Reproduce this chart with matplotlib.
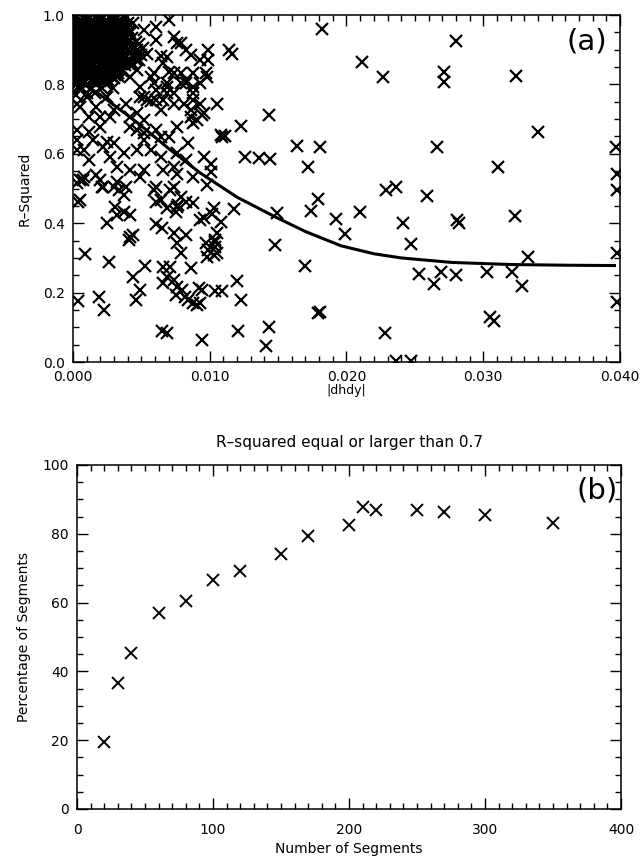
import numpy as np
import matplotlib
matplotlib.use("Agg")
import matplotlib.pyplot as plt
from matplotlib.ticker import MultipleLocator

# ---- panel (a): R-squared vs |dhdy| ----
# dense solid cluster near the origin
blob_pts = [
    (0.0002, 0.99), (0.0007, 0.99), (0.0012, 0.99), (0.0017, 0.99), (0.0022, 0.99), (0.0027, 0.99), (0.0032, 0.99),
    (0.0004, 0.975), (0.0009, 0.975), (0.0014, 0.975), (0.0019, 0.975), (0.0024, 0.975), (0.0029, 0.975), (0.0035, 0.975),
    (0.0002, 0.96), (0.0007, 0.96), (0.0012, 0.96), (0.0017, 0.96), (0.0022, 0.96), (0.0027, 0.96), (0.0032, 0.96), (0.0037, 0.96),
    (0.0004, 0.945), (0.0009, 0.945), (0.0014, 0.945), (0.0019, 0.945), (0.0024, 0.945), (0.0030, 0.945), (0.0035, 0.945),
    (0.0002, 0.93), (0.0007, 0.93), (0.0012, 0.93), (0.0017, 0.93), (0.0022, 0.93), (0.0027, 0.93), (0.0033, 0.93), (0.0038, 0.93),
    (0.0004, 0.915), (0.0009, 0.915), (0.0014, 0.915), (0.0020, 0.915), (0.0025, 0.915), (0.0030, 0.915), (0.0036, 0.915), (0.0043, 0.915),
    (0.0002, 0.90), (0.0007, 0.90), (0.0012, 0.90), (0.0017, 0.90), (0.0023, 0.90), (0.0028, 0.90), (0.0033, 0.90), (0.0040, 0.90), (0.0047, 0.90),
    (0.0004, 0.885), (0.0009, 0.885), (0.0015, 0.885), (0.0020, 0.885), (0.0026, 0.885), (0.0031, 0.885), (0.0037, 0.885), (0.0044, 0.885), (0.0050, 0.885),
    (0.0002, 0.87), (0.0007, 0.87), (0.0012, 0.87), (0.0018, 0.87), (0.0023, 0.87), (0.0029, 0.87), (0.0034, 0.87), (0.0041, 0.87), (0.0048, 0.87),
    (0.0004, 0.855), (0.0010, 0.855), (0.0015, 0.855), (0.0021, 0.855), (0.0027, 0.855), (0.0032, 0.855), (0.0038, 0.855),
    (0.0002, 0.84), (0.0007, 0.84), (0.0013, 0.84), (0.0018, 0.84), (0.0024, 0.84), (0.0030, 0.84), (0.0036, 0.84),
    (0.0004, 0.825), (0.0010, 0.825), (0.0016, 0.825), (0.0022, 0.825), (0.0028, 0.825), (0.0033, 0.825),
    (0.0002, 0.81), (0.0008, 0.81), (0.0014, 0.81), (0.0020, 0.81), (0.0026, 0.81),
    (0.0005, 0.79), (0.0013, 0.79), (0.0021, 0.79), (0.0029, 0.79),
    (0.0002, 0.77), (0.0016, 0.775), (0.0025, 0.765),
]

# second, staggered layer of the same cluster
blob_fill_pts = [
    (0.0005, 0.983), (0.0010, 0.983), (0.0015, 0.983), (0.0020, 0.983), (0.0025, 0.983), (0.0030, 0.983), (0.0035, 0.983),
    (0.0001, 0.968), (0.0006, 0.968), (0.0011, 0.968), (0.0016, 0.968), (0.0021, 0.968), (0.0026, 0.968), (0.0031, 0.968), (0.0036, 0.968),
    (0.0005, 0.953), (0.0010, 0.953), (0.0015, 0.953), (0.0020, 0.953), (0.0025, 0.953), (0.0030, 0.953), (0.0036, 0.953), (0.0041, 0.953),
    (0.0001, 0.938), (0.0006, 0.938), (0.0011, 0.938), (0.0016, 0.938), (0.0021, 0.938), (0.0026, 0.938), (0.0031, 0.938), (0.0037, 0.938),
    (0.0005, 0.923), (0.0010, 0.923), (0.0015, 0.923), (0.0020, 0.923), (0.0025, 0.923), (0.0031, 0.923), (0.0040, 0.923), (0.0046, 0.923),
    (0.0001, 0.908), (0.0006, 0.908), (0.0011, 0.908), (0.0016, 0.908), (0.0021, 0.908), (0.0026, 0.908), (0.0032, 0.908), (0.0038, 0.908), (0.0051, 0.905),
    (0.0005, 0.893), (0.0010, 0.893), (0.0015, 0.893), (0.0020, 0.893), (0.0025, 0.893), (0.0030, 0.893), (0.0036, 0.893), (0.0042, 0.893),
    (0.0001, 0.878), (0.0006, 0.878), (0.0011, 0.878), (0.0016, 0.878), (0.0022, 0.878), (0.0027, 0.878), (0.0033, 0.878), (0.0039, 0.878), (0.0046, 0.878),
    (0.0005, 0.863), (0.0010, 0.863), (0.0015, 0.863), (0.0020, 0.863), (0.0026, 0.863), (0.0032, 0.863), (0.0037, 0.863), (0.0044, 0.860),
    (0.0001, 0.848), (0.0006, 0.848), (0.0012, 0.848), (0.0018, 0.848), (0.0024, 0.848), (0.0030, 0.848), (0.0035, 0.848),
    (0.0005, 0.833), (0.0010, 0.833), (0.0016, 0.833), (0.0021, 0.833), (0.0027, 0.833), (0.0033, 0.833),
    (0.0001, 0.818), (0.0006, 0.818), (0.0012, 0.818), (0.0018, 0.818), (0.0024, 0.818), (0.0030, 0.818),
    (0.0003, 0.800), (0.0010, 0.800), (0.0017, 0.800), (0.0024, 0.800),
]

# third layer that closes the remaining gaps in the cluster
blob_gap_pts = [
    (0.0009, 0.9925), (0.0019, 0.9925), (0.0029, 0.9925), (0.0038, 0.9925),
    (0.0001, 0.9775), (0.0012, 0.9775), (0.0022, 0.9775), (0.0032, 0.9775), (0.0040, 0.9775),
    (0.0004, 0.9625), (0.0014, 0.9625), (0.0024, 0.9625), (0.0034, 0.9625), (0.0040, 0.9625),
    (0.0001, 0.9475), (0.0012, 0.9475), (0.0022, 0.9475), (0.0033, 0.9475), (0.0042, 0.9475),
    (0.0004, 0.9325), (0.0014, 0.9325), (0.0024, 0.9325), (0.0035, 0.9325), (0.0043, 0.9325),
    (0.0001, 0.9175), (0.0012, 0.9175), (0.0022, 0.9175), (0.0033, 0.9175), (0.0048, 0.9175),
    (0.0004, 0.9025), (0.0015, 0.9025), (0.0025, 0.9025), (0.0036, 0.9025), (0.0044, 0.9025),
    (0.0001, 0.8875), (0.0012, 0.8875), (0.0023, 0.8875), (0.0034, 0.8875), (0.0047, 0.8875),
    (0.0004, 0.8725), (0.0015, 0.8725), (0.0026, 0.8725), (0.0037, 0.8725), (0.0045, 0.8725),
    (0.0001, 0.8575), (0.0012, 0.8575), (0.0024, 0.8575), (0.0035, 0.8575), (0.0041, 0.8575),
    (0.0004, 0.8425), (0.0016, 0.8425), (0.0027, 0.8425), (0.0033, 0.8425),
    (0.0001, 0.8275), (0.0013, 0.8275), (0.0025, 0.8275), (0.0031, 0.8275),
    (0.0004, 0.8125), (0.0017, 0.8125), (0.0023, 0.8125),
]

# upper part of the cloud (R2 > 0.7)
upper_pts = [
    (0.0070, 0.986), (0.0044, 0.976), (0.0052, 0.957), (0.0074, 0.938), (0.0076, 0.918), (0.0061, 0.928),
    (0.0086, 0.885), (0.0064, 0.881), (0.0066, 0.861), (0.0070, 0.837), (0.0088, 0.832), (0.0079, 0.803),
    (0.0088, 0.794), (0.0059, 0.803), (0.0069, 0.794), (0.0052, 0.765), (0.0061, 0.755), (0.0074, 0.745),
    (0.0088, 0.755), (0.0086, 0.707), (0.0052, 0.697), (0.0042, 0.707),
    (0.0034, 0.986), (0.0061, 0.966), (0.0079, 0.918), (0.0083, 0.899), (0.0093, 0.870),
    (0.0054, 0.889), (0.0069, 0.880), (0.0042, 0.928), (0.0039, 0.880),
    (0.0042, 0.822), (0.0049, 0.793), (0.0057, 0.822), (0.0061, 0.784), (0.0054, 0.755), (0.0066, 0.755),
    (0.0069, 0.803), (0.0079, 0.832), (0.0083, 0.803), (0.0074, 0.774), (0.0088, 0.774), (0.0093, 0.803),
    (0.0098, 0.822), (0.0086, 0.726), (0.0096, 0.717), (0.0093, 0.745), (0.0105, 0.745),
    (0.0003, 0.745), (0.0010, 0.774), (0.0020, 0.707), (0.0030, 0.726), (0.0039, 0.745), (0.0049, 0.765),
    (0.0047, 0.717), (0.0057, 0.751), (0.0064, 0.726), (0.0069, 0.774), (0.0081, 0.745), (0.0091, 0.697),
    (0.0004, 0.793), (0.0010, 0.765), (0.0005, 0.736), (0.0017, 0.736), (0.0012, 0.707), (0.0027, 0.707),
    (0.0022, 0.851), (0.0034, 0.851), (0.0047, 0.841), (0.0059, 0.832), (0.0074, 0.832), (0.0083, 0.813),
]

# middle band (0.47 < R2 < 0.70) at small slopes
mid_pts = [
    (0.0042, 0.678), (0.0052, 0.659), (0.0061, 0.669), (0.0070, 0.649), (0.0076, 0.678), (0.0088, 0.688),
    (0.0030, 0.630), (0.0037, 0.601), (0.0047, 0.611), (0.0057, 0.611), (0.0064, 0.591), (0.0076, 0.601),
    (0.0084, 0.630), (0.0032, 0.563), (0.0042, 0.553), (0.0052, 0.553), (0.0066, 0.553), (0.0076, 0.543),
    (0.0088, 0.533), (0.0039, 0.505), (0.0059, 0.495), (0.0071, 0.495), (0.0079, 0.476),
    (0.0049, 0.534), (0.0061, 0.505), (0.0074, 0.505), (0.0064, 0.467), (0.0076, 0.448), (0.0088, 0.457),
    (0.0047, 0.669), (0.0052, 0.640), (0.0064, 0.649), (0.0083, 0.582), (0.0074, 0.563),
    (0.0003, 0.669), (0.0012, 0.664), (0.0025, 0.635), (0.0003, 0.611), (0.0012, 0.582), (0.0027, 0.592),
    (0.0005, 0.524), (0.0017, 0.539), (0.0022, 0.505),
    (0.0003, 0.640), (0.0008, 0.611), (0.0015, 0.640), (0.0022, 0.620), (0.0020, 0.678),
    (0.0008, 0.534), (0.0020, 0.524), (0.0030, 0.505), (0.0003, 0.515),
]

# lower part of the cloud at small slopes
low_pts = [
    (0.0004, 0.462), (0.0009, 0.311), (0.0004, 0.176), (0.0019, 0.188), (0.0023, 0.150), (0.0026, 0.289),
    (0.0025, 0.401), (0.0031, 0.446), (0.0037, 0.433), (0.0042, 0.424), (0.0032, 0.424),
    (0.0042, 0.359), (0.0044, 0.366), (0.0041, 0.352), (0.0053, 0.277), (0.0044, 0.244), (0.0049, 0.209),
    (0.0046, 0.179), (0.0061, 0.399), (0.0065, 0.385), (0.0061, 0.462), (0.0069, 0.443), (0.0075, 0.433),
    (0.0077, 0.452), (0.0083, 0.462), (0.0074, 0.371), (0.0076, 0.342), (0.0083, 0.366), (0.0079, 0.313),
    (0.0093, 0.409), (0.0066, 0.275), (0.0071, 0.275), (0.0069, 0.246), (0.0074, 0.236), (0.0066, 0.227),
    (0.0076, 0.217), (0.0080, 0.207), (0.0075, 0.193), (0.0082, 0.188), (0.0084, 0.179), (0.0088, 0.169),
    (0.0091, 0.164), (0.0086, 0.270), (0.0092, 0.212), (0.0065, 0.088), (0.0069, 0.083),
    (0.0099, 0.323), (0.0103, 0.308), (0.0104, 0.347), (0.0105, 0.371),
    (0.0005, 0.467), (0.0021, 0.505), (0.0007, 0.524), (0.0032, 0.519), (0.0034, 0.496), (0.0037, 0.481),
]

# sparse points at larger slopes
far_pts = [
    (0.0182, 0.959), (0.0211, 0.865), (0.0227, 0.820), (0.0271, 0.837), (0.0271, 0.808),
    (0.0099, 0.899), (0.0099, 0.870), (0.0097, 0.832), (0.0114, 0.899), (0.0116, 0.888),
    (0.0094, 0.712), (0.0143, 0.712), (0.0123, 0.680), (0.0109, 0.649), (0.0111, 0.651),
    (0.0164, 0.623), (0.0181, 0.620), (0.0266, 0.620),
    (0.0096, 0.592), (0.0101, 0.572), (0.0101, 0.548), (0.0098, 0.510), (0.0108, 0.654),
    (0.0126, 0.592), (0.0136, 0.587), (0.0144, 0.584), (0.0172, 0.561),
    (0.0229, 0.496), (0.0236, 0.503), (0.0259, 0.478), (0.0179, 0.470), (0.0174, 0.435),
    (0.0149, 0.430), (0.0210, 0.432), (0.0118, 0.440), (0.0103, 0.443), (0.0102, 0.428),
    (0.0108, 0.404), (0.0096, 0.414), (0.0192, 0.411), (0.0199, 0.369), (0.0241, 0.401),
    (0.0247, 0.339), (0.0148, 0.337), (0.0097, 0.342), (0.0104, 0.352), (0.0105, 0.313),
    (0.0098, 0.303), (0.0104, 0.332), (0.0170, 0.278), (0.0253, 0.254), (0.0264, 0.224),
    (0.0269, 0.260), (0.0120, 0.233), (0.0123, 0.179), (0.0104, 0.205), (0.0109, 0.205),
    (0.0094, 0.207), (0.0093, 0.169), (0.0179, 0.140), (0.0181, 0.145), (0.0121, 0.090),
    (0.0143, 0.102), (0.0141, 0.046), (0.0228, 0.085), (0.0094, 0.063),
    (0.0236, 0.004), (0.0247, 0.004),
    (0.0280, 0.926), (0.0324, 0.824), (0.0340, 0.662), (0.0311, 0.561), (0.0397, 0.620),
    (0.0398, 0.543), (0.0398, 0.496), (0.0281, 0.409), (0.0282, 0.401), (0.0323, 0.421),
    (0.0333, 0.303), (0.0398, 0.313), (0.0280, 0.251), (0.0303, 0.260), (0.0321, 0.260),
    (0.0328, 0.219), (0.0398, 0.174), (0.0305, 0.129), (0.0308, 0.119),
]

# fitted curve
fit_x = [0.0000, 0.0020, 0.0047, 0.0070, 0.0093, 0.0120, 0.0148, 0.0170, 0.0196,
         0.0220, 0.0240, 0.0277, 0.0320, 0.0360, 0.0396]
fit_y = [0.82, 0.77, 0.69, 0.615, 0.545, 0.475, 0.418, 0.376, 0.335,
         0.312, 0.300, 0.287, 0.281, 0.279, 0.278]

# ---- panel (b): percentage of segments with R2 >= 0.7 ----
n_segments = [20, 30, 40, 60, 80, 100, 120, 150, 170, 200, 210, 220, 250, 270, 300, 350]
pct_segments = [19.5, 36.7, 45.2, 57.0, 60.5, 66.7, 69.2, 74.0, 79.5, 82.5, 87.8, 86.8, 87.0, 86.3, 85.4, 83.0]

plt.rcParams.update({'font.family': 'DejaVu Sans', 'font.size': 10,
                     'axes.linewidth': 1.1})

fig = plt.figure(figsize=(6.43, 8.63), dpi=100)
ax1 = fig.add_axes([0.1135, 0.5805, 0.8507, 0.4021])
ax2 = fig.add_axes([0.1198, 0.0626, 0.8460, 0.3986])

mk = dict(linestyle='none', marker='x', color='k', markersize=8.5, markeredgewidth=1.6)

for pts in (blob_pts, blob_fill_pts, blob_gap_pts, upper_pts, mid_pts, low_pts, far_pts):
    arr = np.array(pts)
    ax1.plot(arr[:, 0], arr[:, 1], **mk)
ax1.plot(fit_x, fit_y, color='k', linewidth=2.2)

ax1.set_xlim(0, 0.040)
ax1.set_ylim(0, 1.0)
ax1.xaxis.set_major_locator(MultipleLocator(0.010))
ax1.xaxis.set_minor_locator(MultipleLocator(0.001))
ax1.yaxis.set_major_locator(MultipleLocator(0.2))
ax1.yaxis.set_minor_locator(MultipleLocator(0.05))
ax1.xaxis.set_major_formatter(plt.FormatStrFormatter('%.3f'))
ax1.yaxis.set_major_formatter(plt.FormatStrFormatter('%.1f'))
ax1.set_xlabel('|dhdy|', fontsize=9, labelpad=0)
ax1.set_ylabel('R\u2013Squared', fontsize=10, labelpad=8)
ax1.text(0.94, 0.925, '(a)', transform=ax1.transAxes, fontsize=21,
         ha='center', va='center')

ax2.plot(n_segments, pct_segments, **dict(mk, markersize=8, markeredgewidth=1.4))
ax2.set_xlim(0, 400)
ax2.set_ylim(0, 100)
ax2.xaxis.set_major_locator(MultipleLocator(100))
ax2.xaxis.set_minor_locator(MultipleLocator(10))
ax2.yaxis.set_major_locator(MultipleLocator(20))
ax2.yaxis.set_minor_locator(MultipleLocator(5))
ax2.set_xlabel('Number of Segments', fontsize=10, labelpad=4)
ax2.set_ylabel('Percentage of Segments', fontsize=10, labelpad=8)
ax2.set_title('R\u2013squared equal or larger than 0.7', fontsize=11, pad=13)
ax2.text(0.956, 0.927, '(b)', transform=ax2.transAxes, fontsize=21,
         ha='center', va='center')

for ax in (ax1, ax2):
    ax.tick_params(which='both', direction='in', top=True, right=True,
                   width=1.0, labelsize=10)
    ax.tick_params(which='major', length=8, pad=6)
    ax.tick_params(which='minor', length=4)
ax2.tick_params(axis='x', which='major', pad=10)

fig.savefig('out.png', dpi=100)
